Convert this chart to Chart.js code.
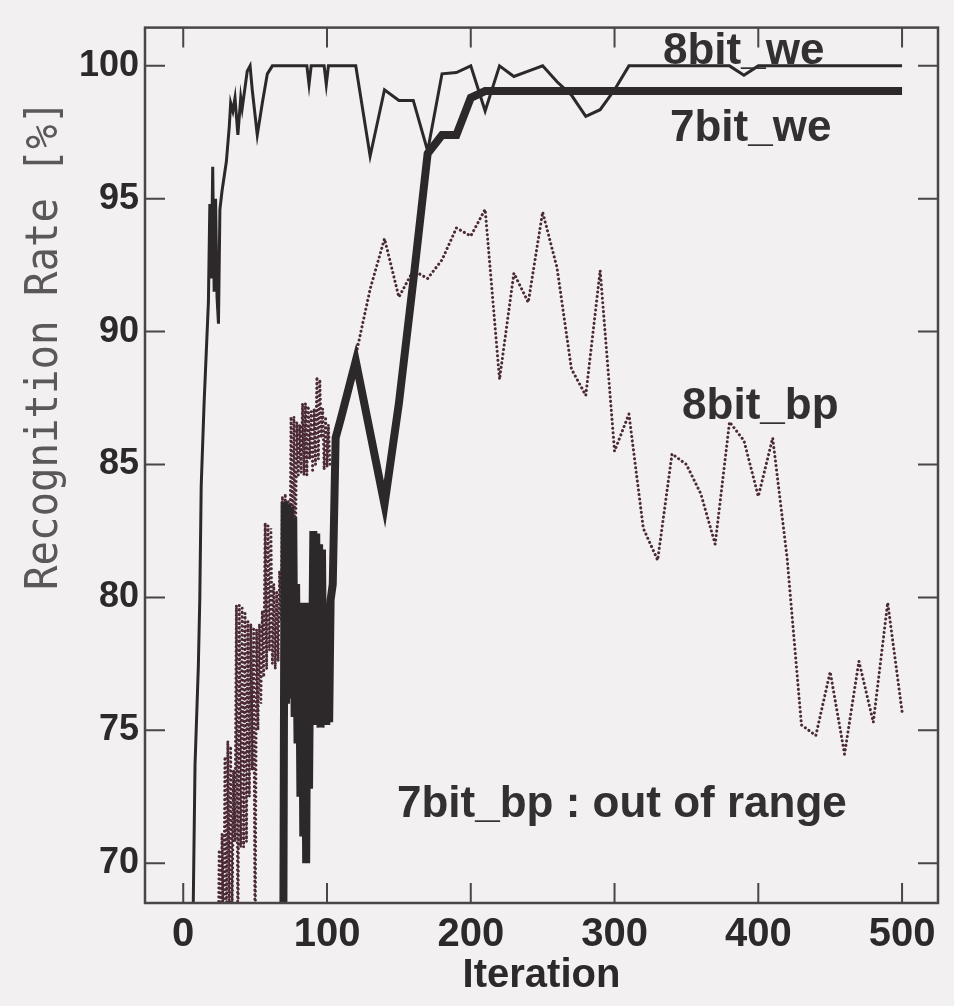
<!DOCTYPE html>
<html lang="en">
<head>
<meta charset="UTF-8">
<title>Recognition Rate vs Iteration</title>
<style>
    html, body {
        margin: 0;
        padding: 0;
        background-color: #f2f0f1;
    }
    #wrap {
        width: 954px;
        height: 1006px;
        position: relative;
    }
    canvas {
        display: block;
    }
</style>
<script src="https://cdn.jsdelivr.net/npm/chart.js@4.4.0/dist/chart.umd.min.js"></script>
</head>
<body>
<div id="wrap"><canvas id="rateChart" width="954" height="1006"></canvas></div>
<script>
// values (iteration, recognition rate %)
const iter8we = [6.2, 7, 8.2, 10.5, 11.5, 12.5, 14.5, 17.5, 18.5, 19.5, 20.5, 21.5, 22.5, 23.5, 24.5, 25.5, 27, 30, 32, 33, 34.5, 36, 38, 40, 41, 44.5, 46.5, 48, 51.5, 55, 58.5, 62,
    86, 87.5, 89, 98, 99.5, 101, 120, 130, 140, 150, 160, 170, 180, 190, 200, 210, 220, 230, 240, 250, 260, 270, 280, 290, 300, 310, 320, 330, 340, 350, 360, 370, 380, 390, 400, 410, 420, 430, 440, 450, 460, 470, 480, 490, 500];
const rate8we = [65, 68.6, 73.7, 77.4, 79.9, 84.2, 87.3, 91.1, 94.8, 92.0, 96.2, 91.5, 95.0, 91.3, 90.3, 94.6, 95.3, 96.4, 97.7, 98.6, 98.3, 98.8, 97.4, 98.8, 98.4, 99.8, 100, 99.1, 97.4, 98.6, 99.7, 100,
    100, 99.3, 100, 100, 99.3, 100, 100, 96.6, 99.1, 98.7, 98.7, 96.8, 99.7, 99.75, 100, 98.3, 100, 99.6, 99.8, 100, 99.4, 98.9, 98.1, 98.35, 99.1, 100, 100, 100, 100, 100, 100, 100, 100, 99.65, 100, 100, 100, 100, 100, 100, 100, 100, 100, 100, 100];

const iter7we = [69.5, 70.5, 71.5, 72.5, 73.5, 74.5, 75.5, 76.5, 77.5, 78.5, 79.5, 80.5, 81.5, 82.5, 83.5, 84.5, 85.5, 86.5, 87.5, 88.5, 89.5, 90.5, 91.5, 92.5, 93.5, 94.5, 95.5, 96.5, 97.5, 98.5, 99.5, 100.5, 101.5, 102.5, 104, 106,
    110, 120, 130, 140, 150, 160, 170, 180, 190, 200, 210, 250, 300, 350, 400, 450, 500];
const rate7we = [65, 83.6, 76, 83.5, 77, 83.4, 76.2, 83.0, 75.5, 80.5, 74.5, 79.8, 72.5, 79.8, 71, 79.5, 70.0, 79.8, 72.8, 79.5, 76.5, 82.5, 75.2, 82.4, 75.3, 82.0, 75.1, 81.8, 75.3, 79.8, 75.2, 79.8, 75.3, 79.9, 80.5, 86.0,
    86.8, 88.9, 86.2, 83.5, 87.3, 91.9, 96.7, 97.4, 97.4, 98.8, 99.05, 99.05, 99.05, 99.05, 99.05, 99.05, 99.05];

const iter8bp = [24, 25, 26, 27, 28, 29, 30, 31, 32, 33, 34, 35, 36, 37, 38, 39, 40, 41, 42, 43, 44, 45, 46, 47, 48, 49, 50, 51, 52, 53, 54, 55, 56, 57, 58, 59, 60, 61, 62, 63, 64, 65, 66, 67, 68, 69, 70,
    71, 72, 73, 74, 75, 76, 77, 78, 79, 80, 81, 82, 83, 84, 85, 86, 87, 88, 89, 90, 91, 92, 93, 94, 95, 96, 97, 98, 99, 100, 101, 102, 104,
    110, 120, 130, 140, 150, 160, 170, 180, 190, 200, 210, 220, 230, 240, 250, 260, 270, 280, 290, 300, 310, 320, 330, 340, 350, 360, 370, 380, 390, 400, 410, 420, 430, 440, 450, 460, 470, 480, 490, 500];
const rate8bp = [65, 70.5, 66, 71.1, 66, 74.0, 67, 74.6, 67.5, 74.4, 68, 73.5, 70.8, 79.7, 66, 79.7, 70.6, 79.6, 70.6, 79.4, 70.8, 79.1, 72.5, 79.0, 73.5, 78.8, 66, 78.8, 75, 79.0, 76, 79.5, 77, 82.8, 77.3, 82.7, 78, 82.6, 77.5, 80.5, 77.3, 80.2, 77.6, 81, 79.1, 83.8, 79.1,
    83.9, 79.3, 83.6, 80, 86.8, 80.5, 86.8, 81.5, 86.6, 84.6, 86.5, 84.7, 87.3, 84.6, 87.3, 84.6, 87.2, 85.2, 87.0, 84.7, 87.1, 85.0, 88.3, 85.2, 88.2, 86.0, 87.1, 84.8, 86.8, 84.9, 86.5, 85.0, 85.0,
    87.0, 89.1, 91.6, 93.5, 91.3, 92.3, 92.0, 92.7, 93.9, 93.6, 94.6, 88.2, 92.2, 91.1, 94.5, 92.4, 88.6, 87.6, 92.3, 85.5, 86.9, 82.6, 81.4, 85.4, 85.0, 83.9, 82.0, 86.6, 85.9, 83.8, 86.0, 81.5, 75.2, 74.8, 77.2, 74.1, 77.6, 75.3, 79.8, 75.7];

const xTicks = [0, 100, 200, 300, 400, 500];
const yTicks = [70, 75, 80, 85, 90, 95, 100];

const seriesNames = ['7bit_we', '8bit_we', '8bit_bp'];
const outOfRangeNote = '7bit_bp : out of range';

function toPoints(xs, ys) {
    return xs.map((v, i) => ({ x: v, y: ys[i] }));
}

const ink = '#2d292b';
const labelFont = '"Liberation Sans", Arial, sans-serif';

// text labels placed in data units, like the figure
const notes = [
    { text: seriesNames[1], x: 333.7, y: 100.06 },
    { text: seriesNames[0], x: 338.6, y: 97.18 },
    { text: seriesNames[2], x: 347.0, y: 86.7 },
    { text: outOfRangeNote, x: 148.7, y: 71.72 }
];

// box, inward ticks, rotated y title and the in-plot labels
const framePlugin = {
    id: 'framePlugin',
    afterDatasetsDraw(chart) {
        const { ctx, chartArea: a, scales: { x, y } } = chart;
        ctx.save();
        ctx.strokeStyle = '#4a4547';
        ctx.lineWidth = 2.5;
        ctx.strokeRect(a.left, a.top, a.right - a.left, a.bottom - a.top);

        ctx.lineWidth = 2;
        ctx.beginPath();
        xTicks.forEach(v => {
            const px = x.getPixelForValue(v);
            ctx.moveTo(px, a.bottom);
            ctx.lineTo(px, a.bottom - 20);
            ctx.moveTo(px, a.top);
            ctx.lineTo(px, a.top + 20);
        });
        yTicks.forEach(v => {
            const py = y.getPixelForValue(v);
            ctx.moveTo(a.left, py);
            ctx.lineTo(a.left + 20, py);
            ctx.moveTo(a.right, py);
            ctx.lineTo(a.right - 20, py);
        });
        ctx.stroke();

        ctx.fillStyle = '#333031';
        ctx.font = 'bold 44px ' + labelFont;
        ctx.textAlign = 'left';
        ctx.textBaseline = 'alphabetic';
        notes.forEach(n => {
            ctx.fillText(n.text, x.getPixelForValue(n.x), y.getPixelForValue(n.y));
        });

        // y axis title sits high, not centred on the axis
        ctx.translate(46, y.getPixelForValue(89.5));
        ctx.rotate(-Math.PI / 2);
        ctx.scale(0.925, 1);
        ctx.fillStyle = '#5b5859';
        ctx.font = '44px "DejaVu Sans Mono", monospace';
        ctx.textAlign = 'center';
        ctx.textBaseline = 'middle';
        ctx.fillText('Recognition Rate [%]', 0, 0);
        ctx.restore();
    }
};

const ctx = document.getElementById('rateChart').getContext('2d');
const rateChart = new Chart(ctx, {
    type: 'line',
    data: {
        datasets: [
            {
                label: seriesNames[0],
                data: toPoints(iter7we, rate7we),
                borderColor: ink,
                borderWidth: 8,
                borderJoinStyle: 'miter',
                pointRadius: 0,
                tension: 0,
                clip: 0
            },
            {
                label: seriesNames[1],
                data: toPoints(iter8we, rate8we),
                borderColor: ink,
                borderWidth: 3,
                pointRadius: 0,
                tension: 0,
                clip: 0
            },
            {
                label: seriesNames[2],
                data: toPoints(iter8bp, rate8bp),
                borderColor: '#4b2a36',
                borderWidth: 3,
                borderDash: [0.1, 4.4],
                borderCapStyle: 'round',
                pointRadius: 0,
                tension: 0,
                clip: 0
            }
        ]
    },
    options: {
        responsive: false,
        animation: false,
        parsing: true,
        layout: {
            padding: { top: 23, right: 16, left: 0, bottom: 0 }
        },
        plugins: {
            legend: { display: false },
            tooltip: { enabled: false }
        },
        scales: {
            x: {
                type: 'linear',
                min: -26.6,
                max: 525,
                afterBuildTicks: s => { s.ticks = xTicks.map(v => ({ value: v })); },
                afterFit: s => { s.height = 103; },
                grid: { display: false, drawTicks: false },
                border: { display: false },
                ticks: {
                    color: ink,
                    autoSkip: false,
                    maxRotation: 0,
                    padding: 8,
                    font: { family: labelFont, size: 40, weight: 'bold' }
                },
                title: {
                    display: true,
                    text: 'Iteration',
                    color: ink,
                    padding: { top: 0, bottom: 6 },
                    font: { family: labelFont, size: 40, weight: 'bold' }
                }
            },
            y: {
                type: 'linear',
                min: 68.5,
                max: 101.44,
                afterBuildTicks: s => { s.ticks = yTicks.map(v => ({ value: v })); },
                afterFit: s => { s.width = 145; },
                grid: { display: false, drawTicks: false },
                border: { display: false },
                ticks: {
                    color: ink,
                    padding: 6,
                    font: { family: labelFont, size: 36, weight: 'bold' }
                }
            }
        }
    },
    plugins: [framePlugin]
});
</script>
</body>
</html>
